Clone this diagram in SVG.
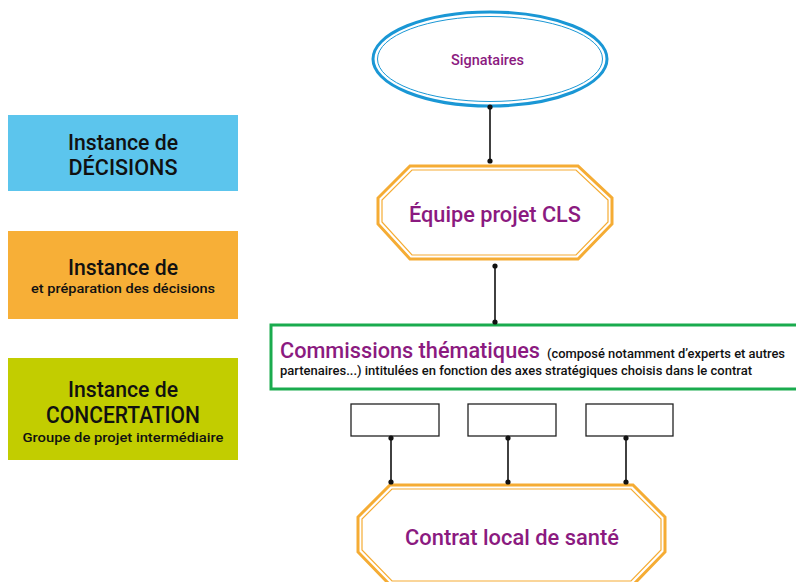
<svg xmlns="http://www.w3.org/2000/svg" width="796" height="582" viewBox="0 0 796 582">
<style>
text{font-family:Roboto,"Liberation Sans",sans-serif;font-weight:500}
.leg{fill:#111;text-anchor:middle}
.pur{fill:#8b1a80}
.oct-o{fill:#fff;stroke:#f5ac34;stroke-width:3}
.oct-i{fill:none;stroke:#f5ac34;stroke-width:1.2}
.conn line{stroke:#111;stroke-width:1.6}
.conn circle{fill:#111}
.small{fill:#fff;stroke:#222;stroke-width:1.3}
</style>
<rect width="796" height="582" fill="#fff"/>

<g id="legend-decisions">
<rect x="8" y="115" width="230" height="76" fill="#5cc5ed"/>
<text class="leg" x="123" y="150" font-size="22" textLength="110" lengthAdjust="spacingAndGlyphs">Instance de</text>
<text class="leg" x="123" y="175" font-size="22" textLength="109" lengthAdjust="spacingAndGlyphs">DÉCISIONS</text>
</g>
<g id="legend-preparation">
<rect x="8" y="231" width="230" height="88" fill="#f7af37"/>
<text class="leg" x="123" y="275" font-size="22" textLength="110" lengthAdjust="spacingAndGlyphs">Instance de</text>
<text class="leg" x="123" y="293" font-size="13.5" textLength="184" lengthAdjust="spacingAndGlyphs">et préparation des décisions</text>
</g>
<g id="legend-concertation">
<rect x="8" y="358" width="230" height="102" fill="#c2cd00"/>
<text class="leg" x="123" y="397" font-size="22" textLength="110" lengthAdjust="spacingAndGlyphs">Instance de</text>
<text class="leg" x="123" y="423" font-size="23" textLength="154" lengthAdjust="spacingAndGlyphs">CONCERTATION</text>
<text class="leg" x="123" y="442" font-size="13.5" textLength="201" lengthAdjust="spacingAndGlyphs">Groupe de projet intermédiaire</text>
</g>

<g id="signataires">
<ellipse cx="490" cy="59" rx="117" ry="47" fill="#fff" stroke="#1a97d5" stroke-width="3"/>
<ellipse cx="490" cy="59" rx="112.5" ry="42.5" fill="none" stroke="#1a97d5" stroke-width="1"/>
<text class="pur" x="487.5" y="65" font-size="15" text-anchor="middle" textLength="73" lengthAdjust="spacingAndGlyphs">Signataires</text>
</g>

<g id="equipe">
<polygon class="oct-o" points="410,166 578,166 612,198 612,224 578,259 410,259 378,224 378,198"/>
<polygon class="oct-i" points="412,170 576,170 608,200 608,222 576,255 412,255 382,222 382,200"/>
<text class="pur" x="495" y="222" font-size="22" text-anchor="middle" textLength="172" lengthAdjust="spacingAndGlyphs">Équipe projet CLS</text>
</g>

<g id="commissions">
<rect x="271" y="325" width="540" height="64" fill="#fff" stroke="#1aab4e" stroke-width="3"/>
<text x="280" y="358"><tspan class="pur" font-size="21.5" textLength="260" lengthAdjust="spacingAndGlyphs">Commissions thématiques</tspan></text>
<text x="547" y="358" fill="#111" font-size="13" textLength="238" lengthAdjust="spacingAndGlyphs">(composé notamment d’experts et autres</text>
<text x="280" y="375" fill="#111" font-size="13" textLength="472" lengthAdjust="spacingAndGlyphs">partenaires...) intitulées en fonction des axes stratégiques choisis dans le contrat</text>
</g>

<g id="axe1"><rect class="small" x="351" y="404" width="88" height="32"/></g>
<g id="axe2"><rect class="small" x="468" y="404" width="88" height="32"/></g>
<g id="axe3"><rect class="small" x="586" y="404" width="87" height="32"/></g>

<g id="contrat">
<polygon class="oct-o" points="390,485 633,485 665,517 665,552 633,585 390,585 358,552 358,517"/>
<polygon class="oct-i" points="392,489 631,489 661,519 661,550 631,581 392,581 362,550 362,519"/>
<text class="pur" x="512" y="545" font-size="22" text-anchor="middle" textLength="214" lengthAdjust="spacingAndGlyphs">Contrat local de santé</text>
</g>

<g id="connectors" class="conn">
<line x1="490" y1="107" x2="490" y2="161"/>
<circle cx="490" cy="107" r="2.6"/><circle cx="490" cy="161" r="2.6"/>
<line x1="495" y1="266" x2="495" y2="322"/>
<circle cx="495" cy="266" r="2.6"/><circle cx="495" cy="322" r="2.6"/>
<line x1="391" y1="438" x2="391" y2="482"/>
<circle cx="391" cy="438" r="2.6"/><circle cx="391" cy="482" r="2.6"/>
<line x1="508" y1="438" x2="508" y2="482"/>
<circle cx="508" cy="438" r="2.6"/><circle cx="508" cy="482" r="2.6"/>
<line x1="626" y1="438" x2="626" y2="482"/>
<circle cx="626" cy="438" r="2.6"/><circle cx="626" cy="482" r="2.6"/>
</g>
</svg>
